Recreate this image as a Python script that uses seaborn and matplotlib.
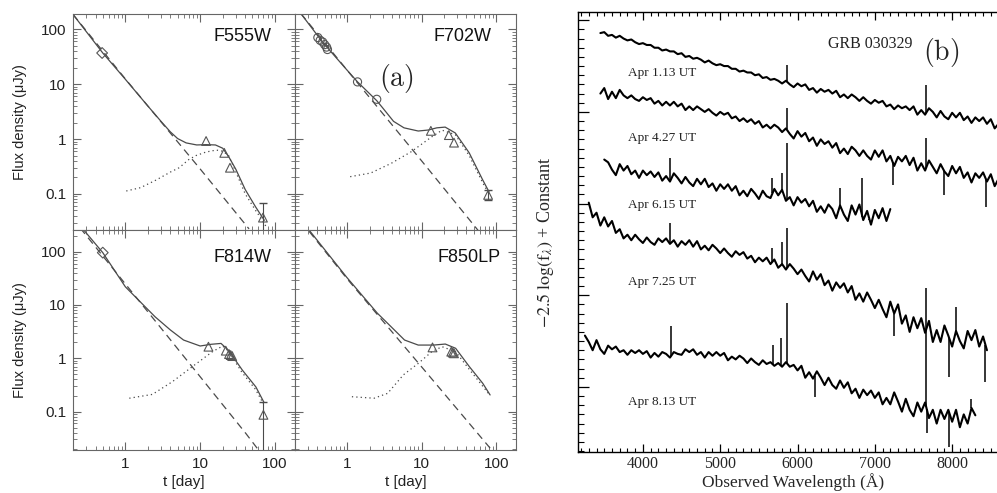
import numpy as np
import matplotlib
matplotlib.use("Agg")
import matplotlib.pyplot as plt
from matplotlib.ticker import LogLocator, NullFormatter, FuncFormatter, MultipleLocator
import seaborn as sns

sns.set_theme(style="ticks")
plt.rcParams["font.family"] = ["Liberation Sans", "DejaVu Sans"]
plt.rcParams["mathtext.fontset"] = "stix"

LINE = "#4a4a4a"
MARK = "#555555"

# ---------------- panel (a): HST light curves (t in days, flux in microJy) ----------------
# F555W
f555w_diam_t = [0.49]
f555w_diam_f = [37]
f555w_tri_t = [12.0, 21, 25, 69]
f555w_tri_f = [0.92, 0.56, 0.30, 0.037]
f555w_tot_t = [0.2, 0.5, 1, 2, 3, 4, 5, 6.5, 9, 12, 16, 20, 24, 30, 40, 55, 72]
f555w_tot_f = [187, 37, 12.3, 4.0, 2.1, 1.35, 1.02, 0.85, 0.78, 0.79, 0.78, 0.68, 0.48, 0.28, 0.12, 0.058, 0.033]
f555w_ag_t = [0.2, 1, 10, 45]
f555w_ag_f = [187, 12.5, 0.285, 0.023]
f555w_sn_t = [1.03, 1.6, 2.6, 4, 5.25, 7, 8.8, 12, 16.4, 20, 24, 30, 40, 55, 65, 78]
f555w_sn_f = [0.113, 0.13, 0.18, 0.25, 0.30, 0.42, 0.50, 0.58, 0.63, 0.60, 0.50, 0.25, 0.10, 0.05, 0.036, 0.024]

# F702W
f702w_circ_t = [0.405, 0.435, 0.47, 0.50, 0.53, 0.545, 1.38, 2.5]
f702w_circ_f = [70.7, 63, 58.7, 52.5, 47.4, 42.8, 11.0, 5.3]
f702w_tri_t = [13.3, 23.2, 27.2, 78]
f702w_tri_f = [1.41, 1.18, 0.86, 0.096]
f702w_tot_t = [0.24, 0.47, 1.0, 1.38, 2.5, 3.0, 4.2, 5.8, 9, 12.3, 16, 20.7, 28.3, 43.5, 66, 80]
f702w_tot_f = [193, 58, 18, 11, 5.0, 3.7, 2.1, 1.6, 1.4, 1.46, 1.6, 1.65, 1.29, 0.56, 0.18, 0.11]
f702w_ag_t = [0.24, 1, 10, 60]
f702w_ag_f = [193, 18, 0.40, 0.02]
f702w_sn_t = [1.1, 2.07, 3.9, 7.3, 13.7, 18.8, 28.3, 43.5, 66, 80]
f702w_sn_f = [0.206, 0.24, 0.36, 0.59, 1.1, 1.45, 1.2, 0.5, 0.16, 0.1]

# F814W
f814w_diam_t = [0.50]
f814w_diam_f = [96]
f814w_tri_t = [12.9, 22, 24.3, 25.6, 26.8, 70]
f814w_tri_f = [1.65, 1.39, 1.2, 1.15, 1.1, 0.087]
f814w_tot_t = [0.28, 0.5, 1, 2.5, 4, 6, 10, 14, 19, 24, 36.6, 55.5, 71]
f814w_tot_f = [253, 96, 22, 6.0, 3.4, 2.2, 1.7, 1.83, 1.9, 1.4, 0.6, 0.29, 0.15]
f814w_ag_t = [0.25, 3.14, 40.7, 62]
f814w_ag_f = [278, 3.4, 0.039, 0.018]
f814w_sn_t = [1.13, 2.3, 4.27, 7.9, 14.6, 20, 24, 36, 55, 70]
f814w_sn_f = [0.178, 0.21, 0.365, 0.70, 1.33, 1.7, 1.35, 0.55, 0.26, 0.14]

# F850LP
f850lp_tri_t = [14, 25, 26.2, 27.2]
f850lp_tri_f = [1.6, 1.33, 1.28, 1.24]
f850lp_tot_t = [0.31, 0.99, 2.55, 3.9, 5.9, 9, 14.5, 20.8, 28.6, 43.6, 66, 83]
f850lp_tot_f = [253, 33, 7.0, 3.9, 2.2, 1.77, 1.77, 1.85, 1.54, 0.70, 0.34, 0.205]
f850lp_ag_t = [0.31, 1, 10, 83]
f850lp_ag_f = [240, 31, 0.69, 0.0206]
f850lp_sn_t = [1.16, 2.3, 3.5, 5.7, 9, 13.7, 18.8, 28.6, 43.6, 66, 83]
f850lp_sn_f = [0.19, 0.178, 0.22, 0.49, 0.8, 1.33, 1.65, 1.33, 0.62, 0.3, 0.2]

# ---------------- panel (b): spectra (-2.5 log f_lambda + const, 50 A steps) ----------------
spec_labels = ["Apr 1.13 UT", "Apr 4.27 UT", "Apr 6.15 UT", "Apr 7.25 UT", "Apr 8.13 UT"]
spec_label_y = [0.58, 1.28, 2.02, 2.86, 4.17]
spec_start = [3450, 3450, 3500, 3300, 3250]

spec1 = [0.14, 0.13, 0.17, 0.16, 0.19, 0.17, 0.20, 0.22, 0.21, 0.24,
         0.26, 0.25, 0.27, 0.27, 0.30, 0.30, 0.33, 0.32, 0.34, 0.34,
         0.37, 0.36, 0.40, 0.39, 0.42, 0.41, 0.43, 0.46, 0.44, 0.47,
         0.49, 0.48, 0.50, 0.50, 0.53, 0.53, 0.56, 0.55, 0.57, 0.57,
         0.60, 0.59, 0.63, 0.62, 0.65, 0.64, 0.66, 0.69, 0.66, 0.70,
         0.73, 0.69, 0.72, 0.70, 0.76, 0.74, 0.79, 0.75, 0.78, 0.76,
         0.80, 0.77, 0.84, 0.81, 0.85, 0.81, 0.84, 0.88, 0.84, 0.88,
         0.91, 0.87, 0.90, 0.88, 0.94, 0.92, 0.97, 0.93, 0.96, 0.94,
         0.98, 0.94, 1.03, 0.98, 1.03, 0.96, 1.00, 1.06, 0.99, 1.05,
         1.08, 1.01, 1.06, 1.01, 1.09, 1.05, 1.12, 1.06, 1.10, 1.06,
         1.13, 1.08, 1.18, 1.13]
spec2 = [0.80, 0.74, 0.86, 0.78, 0.85, 0.76, 0.82, 0.85, 0.82, 0.86,
         0.88, 0.84, 0.87, 0.85, 0.91, 0.88, 0.93, 0.89, 0.93, 0.89,
         0.94, 0.91, 0.98, 0.94, 0.98, 0.94, 0.97, 1.00, 0.97, 1.01,
         1.04, 1.00, 1.03, 1.01, 1.07, 1.05, 1.10, 1.07, 1.11, 1.08,
         1.13, 1.10, 1.17, 1.14, 1.18, 1.14, 1.17, 1.22, 1.18, 1.24,
         1.29, 1.21, 1.27, 1.23, 1.32, 1.28, 1.37, 1.30, 1.35, 1.32,
         1.39, 1.34, 1.45, 1.40, 1.46, 1.38, 1.42, 1.48, 1.42, 1.48,
         1.52, 1.42, 1.49, 1.42, 1.54, 1.48, 1.59, 1.49, 1.54, 1.48,
         1.58, 1.50, 1.64, 1.56, 1.64, 1.53, 1.60, 1.67, 1.57, 1.65,
         1.70, 1.59, 1.67, 1.60, 1.72, 1.66, 1.77, 1.67, 1.72, 1.66,
         1.76, 1.68, 1.81, 1.73]
spec3 = [1.52, 1.55, 1.63, 1.69, 1.57, 1.64, 1.59, 1.68, 1.64, 1.72,
         1.64, 1.69, 1.65, 1.71, 1.66, 1.75, 1.70, 1.76, 1.67, 1.72,
         1.78, 1.71, 1.77, 1.81, 1.73, 1.79, 1.73, 1.82, 1.78, 1.86,
         1.79, 1.84, 1.79, 1.86, 1.81, 1.91, 1.86, 1.92, 1.84, 1.89,
         1.95, 1.86, 1.92, 1.94, 1.84, 1.91, 1.85, 1.97, 1.93, 2.02,
         1.93, 1.99, 1.95, 2.03, 1.97, 2.09, 2.03, 2.10, 2.01, 2.06,
         2.16, 2.02, 2.12, 2.19, 2.02, 2.12, 2.01, 2.18, 2.08, 2.23,
         2.07, 2.16, 2.05, 2.19, 2.06]
spec4 = [1.99, 2.15, 2.10, 2.24, 2.15, 2.25, 2.19, 2.32, 2.28, 2.38,
         2.34, 2.40, 2.34, 2.39, 2.43, 2.37, 2.42, 2.45, 2.38, 2.42,
         2.38, 2.44, 2.40, 2.47, 2.41, 2.45, 2.40, 2.47, 2.41, 2.50,
         2.46, 2.51, 2.45, 2.49, 2.54, 2.49, 2.54, 2.58, 2.52, 2.56,
         2.53, 2.60, 2.57, 2.64, 2.59, 2.63, 2.59, 2.66, 2.61, 2.70,
         2.66, 2.72, 2.66, 2.71, 2.77, 2.72, 2.79, 2.85, 2.74, 2.83,
         2.77, 2.89, 2.84, 2.95, 2.86, 2.92, 2.87, 2.97, 2.90, 3.05,
         2.98, 3.07, 2.97, 3.05, 3.14, 3.05, 3.15, 3.24, 3.07, 3.20,
         3.10, 3.31, 3.22, 3.40, 3.24, 3.36, 3.25, 3.41, 3.28, 3.51,
         3.38, 3.51, 3.33, 3.44, 3.56, 3.39, 3.50, 3.58, 3.39, 3.49,
         3.38, 3.56, 3.45, 3.60]
spec5 = [3.44, 3.51, 3.60, 3.49, 3.59, 3.64, 3.55, 3.59, 3.56, 3.62,
         3.60, 3.65, 3.60, 3.63, 3.60, 3.64, 3.61, 3.68, 3.63, 3.67,
         3.62, 3.64, 3.68, 3.62, 3.64, 3.65, 3.59, 3.62, 3.59, 3.65,
         3.62, 3.68, 3.62, 3.66, 3.62, 3.66, 3.63, 3.71, 3.67, 3.70,
         3.66, 3.69, 3.74, 3.69, 3.73, 3.76, 3.71, 3.75, 3.73, 3.77,
         3.74, 3.78, 3.73, 3.78, 3.76, 3.82, 3.77, 3.90, 3.84, 3.91,
         3.83, 3.90, 3.98, 3.90, 3.98, 4.02, 3.93, 4.01, 3.95, 4.07,
         4.02, 4.12, 4.03, 4.09, 4.04, 4.12, 4.06, 4.19, 4.12, 4.19,
         4.06, 4.16, 4.27, 4.13, 4.25, 4.32, 4.17, 4.27, 4.17, 4.34,
         4.25, 4.40, 4.25, 4.35, 4.25, 4.38, 4.25, 4.44, 4.30, 4.40,
         4.23, 4.31]

# narrow lines / spikes: wavelength and tip value
spike1_w = [5860, 7665]
spike1_v = [0.49, 0.71]
spike2_w = [5860, 7665, 7230, 7900, 8440]
spike2_v = [0.96, 1.29, 1.80, 1.91, 2.04]
spike3_w = [4350, 5675, 5795, 5860, 6555, 6840, 6930]
spike3_v = [1.50, 1.72, 1.67, 1.34, 1.83, 1.72, 2.18]
spike4_w = [4350, 5675, 5795, 5860, 7250, 7960, 8050, 8430]
spike4_v = [2.21, 2.49, 2.42, 2.27, 3.45, 3.89, 3.13, 3.95]
spike5_w = [4360, 5680, 5790, 5860, 6220, 7665, 7670, 7960, 8250]
spike5_v = [3.34, 3.54, 3.47, 3.08, 4.11, 2.92, 4.50, 4.66, 4.13]

fig = plt.figure(figsize=(9.97, 4.93), dpi=100)


def style_lc(ax, ylim, show_x, show_y):
    ax.set_xscale("log")
    ax.set_yscale("log")
    ax.set_xlim(0.2, 185)
    ax.set_ylim(*ylim)
    for axis in (ax.xaxis, ax.yaxis):
        axis.set_major_locator(LogLocator(10))
        axis.set_minor_locator(LogLocator(10, subs=np.arange(2, 10)))
        axis.set_minor_formatter(NullFormatter())
        axis.set_major_formatter(FuncFormatter(lambda v, p: "%g" % v))
    ax.tick_params(which="both", direction="in", top=True, right=True,
                   color="#666666", labelsize=11, labelcolor="#222222",
                   labelbottom=show_x, labelleft=show_y, pad=5)
    ax.tick_params(which="major", length=6, width=0.8)
    ax.tick_params(which="minor", length=3, width=0.6)
    for s in ax.spines.values():
        s.set_linewidth(0.8)
        s.set_color("#666666")


def curves(ax, tot_t, tot_f, ag_t, ag_f, sn_t, sn_f):
    sns.lineplot(x=tot_t, y=tot_f, ax=ax, color=LINE, lw=0.9, estimator=None, sort=False)
    sns.lineplot(x=ag_t, y=ag_f, ax=ax, color=LINE, lw=0.9, estimator=None, sort=False,
                 linestyle=(0, (6, 4)))
    sns.lineplot(x=sn_t, y=sn_f, ax=ax, color=LINE, lw=0.9, estimator=None, sort=False,
                 linestyle=(0, (1, 2.5)))


def points(ax, t, f, marker, size=40):
    sns.scatterplot(x=t, y=f, ax=ax, marker=marker, s=size, facecolor="none",
                    edgecolor=MARK, linewidth=0.8, zorder=3)


top_ylim = (0.022, 190)
bot_ylim = (0.019, 255)

ax00 = fig.add_axes([0.0732, 0.5335, 0.2227, 0.4381])
ax01 = fig.add_axes([0.2959, 0.5335, 0.2217, 0.4381])
ax10 = fig.add_axes([0.0732, 0.0872, 0.2227, 0.4462])
ax11 = fig.add_axes([0.2959, 0.0872, 0.2217, 0.4462])

curves(ax00, f555w_tot_t, f555w_tot_f, f555w_ag_t, f555w_ag_f, f555w_sn_t, f555w_sn_f)
points(ax00, f555w_diam_t, f555w_diam_f, "D", 30)
points(ax00, f555w_tri_t, f555w_tri_f, "^")
ax00.errorbar([f555w_tri_t[-1]], [f555w_tri_f[-1]], yerr=[[0.02], [0.032]],
              fmt="none", ecolor=LINE, elinewidth=0.8, capsize=3)

curves(ax01, f702w_tot_t, f702w_tot_f, f702w_ag_t, f702w_ag_f, f702w_sn_t, f702w_sn_f)
points(ax01, f702w_circ_t, f702w_circ_f, "o", 34)
points(ax01, f702w_tri_t, f702w_tri_f, "^")
ax01.errorbar([f702w_tri_t[-1]], [f702w_tri_f[-1]], yerr=[[0.017], [0.022]],
              fmt="none", ecolor=LINE, elinewidth=0.8, capsize=3)

curves(ax10, f814w_tot_t, f814w_tot_f, f814w_ag_t, f814w_ag_f, f814w_sn_t, f814w_sn_f)
points(ax10, f814w_diam_t, f814w_diam_f, "D", 30)
points(ax10, f814w_tri_t, f814w_tri_f, "^")
ax10.errorbar([f814w_tri_t[-1]], [f814w_tri_f[-1]], yerr=[[0.07], [0.063]],
              fmt="none", ecolor=LINE, elinewidth=0.8, capsize=3)

curves(ax11, f850lp_tot_t, f850lp_tot_f, f850lp_ag_t, f850lp_ag_f, f850lp_sn_t, f850lp_sn_f)
points(ax11, f850lp_tri_t, f850lp_tri_f, "^")

style_lc(ax00, top_ylim, False, True)
style_lc(ax01, top_ylim, False, False)
style_lc(ax10, bot_ylim, True, True)
style_lc(ax11, bot_ylim, True, False)

for ax, name, xpos, ypos in [(ax00, "F555W", 0.895, 0.895), (ax01, "F702W", 0.89, 0.895),
                             (ax10, "F814W", 0.895, 0.873), (ax11, "F850LP", 0.928, 0.873)]:
    ax.text(xpos, ypos, name, transform=ax.transAxes, ha="right", va="center",
            fontsize=13, color="#111111")

fig.text(0.020, 0.7525, "Flux density (\u03bcJy)", rotation=90, ha="center", va="center",
         fontsize=10.5, color="#222222")
fig.text(0.020, 0.3103, "Flux density (\u03bcJy)", rotation=90, ha="center", va="center",
         fontsize=10.5, color="#222222")
fig.text(0.1846, 0.022, "t [day]", ha="center", va="center", fontsize=11, color="#222222")
fig.text(0.4067, 0.022, "t [day]", ha="center", va="center", fontsize=11, color="#222222")
fig.text(0.398, 0.84, r"$\mathrm{(a)}$", ha="center", va="center", fontsize=20,
         math_fontfamily="cm")

# ---------------- panel (b) ----------------
axs = fig.add_axes([0.5797, 0.0832, 0.4203, 0.8925])
spectra = [spec1, spec2, spec3, spec4, spec5]
spikes = [(spike1_w, spike1_v), (spike2_w, spike2_v), (spike3_w, spike3_v),
          (spike4_w, spike4_v), (spike5_w, spike5_v)]
for vals, start, (sw, sv), lab, ly in zip(spectra, spec_start, spikes, spec_labels, spec_label_y):
    wave = start + 50 * np.arange(len(vals))
    sns.lineplot(x=wave, y=vals, ax=axs, color="black", lw=1.5, estimator=None, sort=False)
    base = np.interp(sw, wave, vals)
    axs.vlines(sw, base, sv, color="black", lw=1.1)
    axs.text(3810, ly, lab, ha="left", va="center", fontsize=9.5,
             family="Liberation Serif", color="#222222")

axs.text(6390, 0.26, "GRB 030329", ha="left", va="center", fontsize=11.5,
         family="Liberation Serif", color="#222222")
axs.text(7860, 0.35, r"$\mathrm{(b)}$", ha="center", va="center", fontsize=20,
         math_fontfamily="cm")

axs.set_xlim(3160, 8580)
axs.set_ylim(4.71, -0.09)
axs.xaxis.set_major_locator(MultipleLocator(1000))
axs.xaxis.set_minor_locator(MultipleLocator(100))
axs.yaxis.set_major_locator(MultipleLocator(1))
axs.yaxis.set_minor_locator(MultipleLocator(0.1))
axs.tick_params(which="both", direction="in", top=True, right=False, labelleft=False,
                color="black", labelsize=11.5, pad=3)
axs.tick_params(axis="x", which="major", length=6, width=0.9)
axs.tick_params(axis="x", which="minor", length=3, width=0.8)
axs.tick_params(axis="y", which="major", length=8, width=0.9)
axs.tick_params(axis="y", which="minor", length=4, width=0.8)
for lab in axs.get_xticklabels():
    lab.set_family("Liberation Serif")
axs.spines["right"].set_visible(False)
for s in ["left", "top", "bottom"]:
    axs.spines[s].set_linewidth(1.0)
    axs.spines[s].set_color("black")

fig.text(0.795, 0.022, "Observed Wavelength (\u00c5)", ha="center", va="center",
         fontsize=12.5, family="Liberation Serif")
fig.text(0.547, 0.509, r"$-2.5\;\log(\mathrm{f}_{\lambda})$ + Constant", rotation=90,
         ha="center", va="center", fontsize=13, family="Liberation Serif")

fig.savefig("out.png", dpi=100)
